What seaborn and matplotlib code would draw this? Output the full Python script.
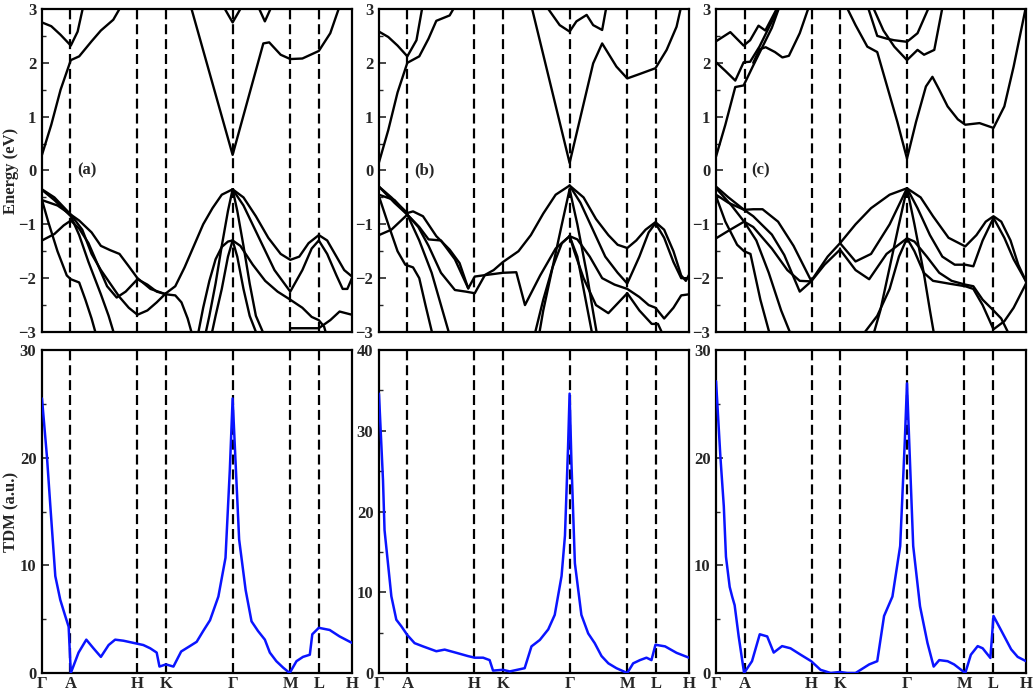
import numpy as np
import pandas as pd
import matplotlib
matplotlib.use("Agg")
import matplotlib.pyplot as plt
import seaborn as sns

# ---------------- data ----------------
KPTS = [0.0, 0.092, 0.308, 0.400, 0.615, 0.801, 0.893, 1.0]
KLABELS = ["Γ", "A", "H", "K", "Γ", "M", "L", "H"]
PANEL_TAGS = ["(a)", "(b)", "(c)"]
TDM_YMAX = [30, 40, 30]

# band lines: list of (k, E) nodes per curve
BANDS_A = [
    [(0, 0.29), (0.03, 0.85), (0.06, 1.5), (0.093, 2.05), (0.12, 2.12), (0.16, 2.4), (0.19, 2.6), (0.23, 2.8), (0.26, 3.1)],
    [(0, 2.75), (0.03, 2.68), (0.06, 2.52), (0.093, 2.32), (0.115, 2.58), (0.135, 3.1)],
    [(0.48, 3.05), (0.615, 0.29), (0.714, 2.36), (0.733, 2.38), (0.77, 2.15), (0.801, 2.07), (0.84, 2.08), (0.893, 2.22), (0.93, 2.55), (0.96, 3.05)],
    [(0.585, 3.05), (0.615, 2.75), (0.645, 3.05)],
    [(0.697, 3.05), (0.719, 2.77), (0.741, 3.05)],
    [(0, -0.35), (0.04, -0.5), (0.093, -0.82), (0.12, -0.93), (0.16, -1.15), (0.19, -1.4), (0.22, -1.48), (0.25, -1.55), (0.28, -1.78), (0.308, -2.0), (0.35, -2.2), (0.40, -2.3), (0.43, -2.32), (0.45, -2.45), (0.47, -2.75), (0.487, -3.1)],
    [(0.615, -0.35), (0.58, -0.45), (0.55, -0.7), (0.52, -1.0), (0.49, -1.4), (0.46, -1.8), (0.43, -2.15), (0.40, -2.28), (0.37, -2.45), (0.34, -2.6), (0.308, -2.68), (0.28, -2.55), (0.25, -2.35), (0.22, -2.1), (0.19, -1.85), (0.16, -1.55), (0.13, -1.1), (0.093, -0.82), (0.05, -0.65), (0, -0.55)],
    [(0, -1.3), (0.04, -1.18), (0.07, -1.02), (0.093, -0.93), (0.12, -1.08), (0.15, -1.35), (0.18, -1.75), (0.21, -2.15), (0.241, -2.36), (0.27, -2.25), (0.308, -2.02), (0.34, -2.12), (0.37, -2.25), (0.40, -2.3)],
    [(0, -0.55), (0.02, -0.95), (0.05, -1.5), (0.08, -1.95), (0.093, -2.02), (0.12, -2.08), (0.14, -2.4), (0.16, -2.75), (0.177, -3.1)],
    [(0, -0.36), (0.04, -0.55), (0.093, -0.85), (0.12, -1.2), (0.15, -1.7), (0.19, -2.3), (0.215, -2.7), (0.236, -3.1)],
    [(0.615, -0.35), (0.65, -0.5), (0.69, -0.85), (0.73, -1.25), (0.77, -1.55), (0.801, -1.66), (0.83, -1.6), (0.86, -1.35), (0.893, -1.2), (0.92, -1.3), (0.95, -1.6), (0.975, -1.85), (1.0, -1.97)],
    [(0.615, -0.35), (0.65, -0.65), (0.70, -1.25), (0.75, -1.85), (0.801, -2.25), (0.84, -1.85), (0.87, -1.45), (0.893, -1.3), (0.92, -1.55), (0.95, -1.95), (0.97, -2.2), (0.985, -2.2), (1.0, -2.0)],
    [(0.615, -0.35), (0.60, -0.75), (0.58, -1.4), (0.56, -2.1), (0.54, -2.7), (0.525, -3.1)],
    [(0.615, -0.35), (0.63, -0.75), (0.65, -1.4), (0.67, -2.1), (0.69, -2.7), (0.72, -3.1)],
    [(0.615, -1.3), (0.60, -1.32), (0.58, -1.42), (0.56, -1.65), (0.54, -2.05), (0.52, -2.55), (0.503, -3.05)],
    [(0.615, -1.3), (0.60, -1.6), (0.58, -2.2), (0.56, -2.7), (0.545, -3.1)],
    [(0.615, -1.3), (0.63, -1.6), (0.65, -2.2), (0.67, -2.7), (0.697, -3.1)],
    [(0.615, -1.3), (0.64, -1.4), (0.68, -1.75), (0.72, -2.05), (0.76, -2.25), (0.801, -2.4), (0.84, -2.55), (0.87, -2.72), (0.893, -2.78), (0.91, -2.9), (0.92, -3.1)],
    [(0.801, -2.93), (0.893, -2.93), (0.93, -2.78), (0.96, -2.62), (0.98, -2.65), (1.0, -2.68)],
]

BANDS_B = [
    [(0, 0.15), (0.03, 0.75), (0.06, 1.45), (0.0915, 2.0), (0.13, 2.12), (0.16, 2.45), (0.185, 2.78), (0.228, 2.88), (0.25, 3.1)],
    [(0, 2.58), (0.03, 2.48), (0.06, 2.32), (0.0915, 2.12), (0.121, 2.42), (0.142, 3.1)],
    [(0.492, 3.05), (0.615, 0.14), (0.691, 1.99), (0.72, 2.36), (0.766, 1.93), (0.801, 1.71), (0.84, 1.79), (0.892, 1.9), (0.928, 2.24), (0.96, 2.67), (0.975, 3.05)],
    [(0.540, 3.05), (0.583, 2.7), (0.615, 2.58), (0.637, 2.77), (0.67, 2.89), (0.691, 2.7), (0.72, 2.61), (0.734, 3.05)],
    [(0, -0.3), (0.04, -0.5), (0.0915, -0.79), (0.11, -0.76), (0.142, -0.85), (0.185, -1.22), (0.228, -1.47), (0.26, -1.72), (0.288, -2.19), (0.309, -1.97), (0.347, -1.94), (0.40, -1.9), (0.443, -1.89), (0.471, -2.5), (0.52, -1.95), (0.57, -1.45), (0.615, -1.22)],
    [(0.615, -0.28), (0.57, -0.45), (0.53, -0.8), (0.49, -1.2), (0.45, -1.5), (0.40, -1.7), (0.37, -1.85), (0.342, -1.94), (0.309, -2.28), (0.28, -2.25), (0.245, -2.22), (0.20, -1.9), (0.16, -1.4), (0.127, -1.05), (0.0915, -0.82), (0.05, -0.55), (0, -0.45)],
    [(0, -1.2), (0.04, -1.1), (0.0915, -0.82), (0.13, -1.05), (0.16, -1.28), (0.2, -1.3), (0.245, -1.65), (0.288, -2.19)],
    [(0, -0.48), (0.03, -1.0), (0.06, -1.5), (0.085, -1.75), (0.11, -1.8), (0.13, -2.0), (0.15, -2.5), (0.175, -3.1)],
    [(0, -0.3), (0.05, -0.6), (0.0915, -0.82), (0.13, -1.3), (0.17, -1.9), (0.2, -2.5), (0.23, -3.1)],
    [(0.615, -0.28), (0.66, -0.5), (0.70, -0.9), (0.74, -1.2), (0.77, -1.38), (0.801, -1.44), (0.83, -1.3), (0.86, -1.1), (0.892, -0.96), (0.92, -1.1), (0.95, -1.5), (0.975, -1.95), (0.99, -2.05), (1.0, -1.94)],
    [(0.615, -0.28), (0.65, -0.6), (0.69, -1.1), (0.73, -1.6), (0.77, -1.9), (0.801, -2.1), (0.84, -1.6), (0.87, -1.15), (0.892, -0.98), (0.92, -1.25), (0.95, -1.7), (0.975, -2.0), (1.0, -2.0)],
    [(0.615, -1.22), (0.64, -1.28), (0.68, -1.6), (0.72, -2.0), (0.76, -2.12), (0.801, -2.2), (0.84, -2.35), (0.87, -2.5), (0.892, -2.55), (0.92, -2.75), (0.95, -2.55), (0.975, -2.32), (1.0, -2.3)],
    [(0.615, -1.22), (0.63, -1.5), (0.66, -2.0), (0.70, -2.5), (0.74, -2.65), (0.801, -2.28), (0.84, -2.6), (0.88, -2.85), (0.90, -2.85), (0.92, -3.1)],
    [(0.615, -0.35), (0.59, -1.0), (0.56, -1.8), (0.53, -2.6), (0.515, -3.1)],
    [(0.615, -1.22), (0.59, -1.35), (0.56, -1.8), (0.53, -2.4), (0.50, -3.1)],
    [(0.615, -0.35), (0.64, -1.0), (0.67, -1.9), (0.69, -2.6), (0.705, -3.1)],
    [(0.615, -1.22), (0.64, -1.6), (0.66, -2.2), (0.68, -2.8), (0.69, -3.1)],
]

BANDS_C = [
    [(0, 0.26), (0.03, 0.85), (0.062, 1.55), (0.089, 1.58), (0.12, 1.95), (0.15, 2.3), (0.18, 2.65), (0.205, 3.05)],
    [(0, 2.01), (0.03, 1.85), (0.062, 1.67), (0.089, 2.01), (0.11, 2.02), (0.14, 2.3), (0.17, 2.65), (0.205, 3.05)],
    [(0, 2.4), (0.046, 2.57), (0.089, 2.32), (0.11, 2.42), (0.137, 2.69), (0.159, 2.6), (0.20, 3.05)],
    [(0.12, 2.0), (0.14, 2.25), (0.16, 2.29), (0.19, 2.2), (0.214, 2.1), (0.235, 2.13), (0.27, 2.55), (0.30, 3.05)],
    [(0.42, 3.05), (0.45, 2.7), (0.488, 2.3), (0.52, 2.2), (0.55, 1.6), (0.585, 0.9), (0.616, 0.22), (0.645, 0.9), (0.677, 1.56), (0.698, 1.74), (0.72, 1.5), (0.747, 1.19), (0.78, 0.95), (0.804, 0.85), (0.85, 0.88), (0.895, 0.79), (0.93, 1.19), (0.96, 1.93), (1.0, 3.05)],
    [(0.489, 3.05), (0.52, 2.5), (0.55, 2.45), (0.574, 2.42), (0.616, 2.39), (0.65, 2.55), (0.688, 3.05)],
    [(0.505, 3.05), (0.54, 2.6), (0.575, 2.3), (0.616, 2.05), (0.65, 2.24), (0.671, 2.15), (0.704, 2.24), (0.731, 3.05)],
    [(0, -0.3), (0.04, -0.5), (0.0905, -0.73), (0.12, -0.72), (0.15, -0.72), (0.2, -0.95), (0.25, -1.4), (0.307, -2.05), (0.36, -1.6), (0.40, -1.35), (0.45, -1.0), (0.50, -0.7), (0.56, -0.45), (0.616, -0.33)],
    [(0, -0.45), (0.04, -0.6), (0.0905, -0.73), (0.12, -0.85), (0.18, -1.19), (0.22, -1.57), (0.27, -2.25), (0.307, -2.06), (0.35, -1.75), (0.40, -1.47), (0.45, -1.85), (0.494, -2.02), (0.55, -1.55), (0.616, -1.26)],
    [(0, -1.26), (0.04, -1.12), (0.0905, -0.95), (0.12, -1.05), (0.18, -1.45), (0.23, -1.85), (0.27, -2.05), (0.307, -2.06)],
    [(0.40, -1.35), (0.45, -1.69), (0.50, -1.55), (0.56, -1.0), (0.616, -0.33)],
    [(0, -0.48), (0.03, -0.95), (0.068, -1.38), (0.0905, -1.5), (0.111, -1.55), (0.143, -2.4), (0.176, -3.1)],
    [(0, -0.33), (0.05, -0.65), (0.0905, -0.95), (0.13, -1.3), (0.17, -1.9), (0.21, -2.6), (0.245, -3.1)],
    [(0.616, -0.33), (0.66, -0.5), (0.70, -0.85), (0.75, -1.25), (0.804, -1.41), (0.84, -1.2), (0.87, -0.95), (0.895, -0.85), (0.92, -0.95), (0.95, -1.3), (0.975, -1.75), (1.0, -2.06)],
    [(0.616, -0.33), (0.65, -0.7), (0.69, -1.2), (0.73, -1.6), (0.77, -1.75), (0.804, -1.75), (0.83, -1.78), (0.86, -1.3), (0.895, -0.88), (0.93, -1.25), (0.96, -1.65), (1.0, -2.06)],
    [(0.616, -1.26), (0.64, -1.32), (0.68, -1.6), (0.72, -1.9), (0.76, -2.05), (0.804, -2.12), (0.83, -2.15), (0.86, -2.4), (0.895, -2.6), (0.92, -2.75), (0.95, -3.1)],
    [(0.616, -1.26), (0.64, -1.5), (0.67, -1.9), (0.70, -2.05), (0.75, -2.1), (0.804, -2.15), (0.83, -2.2), (0.86, -2.5), (0.895, -2.95), (0.93, -2.8), (0.96, -2.55), (1.0, -2.1)],
    [(0.616, -0.33), (0.59, -1.0), (0.56, -1.8), (0.53, -2.6), (0.505, -3.1)],
    [(0.616, -1.26), (0.59, -1.6), (0.56, -2.2), (0.52, -2.7), (0.467, -3.1)],
    [(0.616, -0.33), (0.64, -1.0), (0.67, -1.9), (0.69, -2.6), (0.705, -3.1)],
]

TDM_A_K = [0.0, 0.016, 0.027, 0.043, 0.059, 0.075, 0.086, 0.093, 0.118, 0.143, 0.166, 0.190, 0.215, 0.236, 0.263, 0.295, 0.327, 0.349, 0.370, 0.379, 0.400, 0.424, 0.449, 0.477, 0.499, 0.520, 0.542, 0.569, 0.592, 0.606, 0.615, 0.636, 0.657, 0.676, 0.697, 0.719, 0.735, 0.756, 0.778, 0.799, 0.821, 0.842, 0.864, 0.872, 0.893, 0.928, 0.960, 1.0]
TDM_A = [25.5, 20.1, 15.5, 9.0, 6.8, 5.3, 4.3, 0.0, 1.9, 3.1, 2.3, 1.5, 2.6, 3.1, 3.0, 2.8, 2.6, 2.3, 1.9, 0.6, 0.8, 0.6, 2.0, 2.5, 2.9, 3.9, 4.9, 7.1, 10.7, 18.9, 25.5, 12.4, 7.7, 4.8, 3.9, 3.1, 1.9, 1.1, 0.5, 0.0, 1.1, 1.5, 1.7, 3.6, 4.2, 4.0, 3.4, 2.8]

TDM_B_K = [0.0, 0.013, 0.018, 0.029, 0.040, 0.056, 0.072, 0.0915, 0.115, 0.142, 0.185, 0.212, 0.250, 0.287, 0.309, 0.336, 0.357, 0.368, 0.399, 0.422, 0.470, 0.492, 0.519, 0.546, 0.567, 0.589, 0.600, 0.610, 0.615, 0.621, 0.632, 0.653, 0.675, 0.696, 0.718, 0.740, 0.766, 0.801, 0.820, 0.842, 0.863, 0.879, 0.892, 0.923, 0.960, 1.0]
TDM_B = [34.6, 23.9, 17.7, 13.6, 9.5, 6.6, 5.8, 4.7, 3.7, 3.3, 2.7, 2.9, 2.5, 2.1, 1.9, 1.9, 1.6, 0.3, 0.4, 0.2, 0.6, 3.3, 4.1, 5.4, 7.2, 12.0, 17.0, 28.0, 34.6, 26.0, 13.6, 7.2, 4.9, 3.7, 2.1, 1.2, 0.6, 0.0, 1.2, 1.6, 1.9, 1.6, 3.5, 3.3, 2.5, 1.9]

TDM_C_K = [0.0, 0.014, 0.025, 0.032, 0.044, 0.052, 0.060, 0.073, 0.0905, 0.116, 0.141, 0.165, 0.186, 0.213, 0.240, 0.273, 0.307, 0.337, 0.370, 0.400, 0.423, 0.450, 0.494, 0.520, 0.542, 0.569, 0.594, 0.609, 0.616, 0.623, 0.636, 0.658, 0.682, 0.702, 0.720, 0.747, 0.768, 0.804, 0.822, 0.844, 0.860, 0.885, 0.895, 0.919, 0.952, 0.973, 1.0]
TDM_C = [27.1, 20.1, 15.5, 10.8, 8.0, 7.1, 6.3, 3.4, 0.0, 1.1, 3.6, 3.4, 1.9, 2.5, 2.3, 1.7, 1.1, 0.3, 0.0, 0.1, 0.0, 0.0, 0.8, 1.1, 5.3, 7.1, 11.8, 21.6, 26.9, 21.6, 11.8, 6.2, 2.8, 0.6, 1.2, 1.1, 0.8, 0.0, 1.7, 2.5, 2.3, 1.4, 5.3, 4.0, 2.2, 1.5, 1.1]

# ---------------- style ----------------
sns.set_style("ticks")
plt.rcParams["font.family"] = ["Liberation Serif", "DejaVu Serif"]
plt.rcParams["font.weight"] = "bold"
plt.rcParams["axes.linewidth"] = 1.5

fig = plt.figure(figsize=(10.34, 6.96), dpi=100)
lefts = [0.0406, 0.3665, 0.6925]
W = 0.2998
H_ = 0.4641
top_b, bot_b = 0.5230, 0.0330

band_sets = [BANDS_A, BANDS_B, BANDS_C]
tdm_sets = [(TDM_A_K, TDM_A), (TDM_B_K, TDM_B), (TDM_C_K, TDM_C)]
DASH = (0, (4.5, 2.2))


def style_axis(ax, ylim, major, minor, show_xlabels):
    ax.set_xlim(0, 1)
    ax.set_ylim(*ylim)
    ax.set_yticks(np.arange(ylim[0], ylim[1] + 0.001, major))
    ax.set_yticks(np.arange(ylim[0], ylim[1] + 0.001, minor), minor=True)
    ax.set_xticks(KPTS)
    if show_xlabels:
        ax.set_xticklabels(KLABELS, fontsize=12, fontweight="bold")
    else:
        ax.set_xticklabels([])
    ax.tick_params(axis="x", length=0, pad=2)
    ax.tick_params(axis="y", which="major", direction="in", length=5, width=1.2,
                   labelsize=12, pad=4)
    ax.tick_params(axis="y", which="minor", direction="in", length=3, width=1.0)
    for lab in ax.get_yticklabels():
        lab.set_fontweight("bold")
    for sp in ax.spines.values():
        sp.set_visible(True)
        sp.set_linewidth(1.6)
        sp.set_color("black")
    for k in KPTS[1:-1]:
        ax.axvline(k, color="black", ls=DASH, lw=1.6, zorder=1)
    ax.set_xlabel("")
    ax.set_ylabel("")


for i in range(3):
    # band structure
    ax = fig.add_axes([lefts[i], top_b, W, H_])
    rows = []
    for bi, band in enumerate(band_sets[i]):
        for k, e in band:
            rows.append((bi, k, e))
    df = pd.DataFrame(rows, columns=["band", "k", "E"])
    sns.lineplot(data=df, x="k", y="E", units="band", estimator=None, sort=False,
                 color="black", lw=1.7, ax=ax, legend=False, zorder=3)
    style_axis(ax, (-3, 3), 1, 0.5, False)
    ax.text(0.115, 0.0, PANEL_TAGS[i], fontsize=12, fontweight="bold",
            ha="left", va="center", zorder=5)
    if i == 0:
        ax.set_ylabel("Energy (eV)", fontsize=12, fontweight="bold", labelpad=0)

    # TDM
    ax2 = fig.add_axes([lefts[i], bot_b, W, H_])
    kk, vv = tdm_sets[i]
    tdf = pd.DataFrame({"k": kk, "TDM": vv})
    sns.lineplot(data=tdf, x="k", y="TDM", sort=False, color="#0a14ff", lw=1.8,
                 ax=ax2, legend=False, zorder=3)
    style_axis(ax2, (0, TDM_YMAX[i]), 10, 5, True)
    if i == 0:
        ax2.set_ylabel("TDM (a.u.)", fontsize=12, fontweight="bold", labelpad=0)

fig.savefig("out.png", dpi=100)
